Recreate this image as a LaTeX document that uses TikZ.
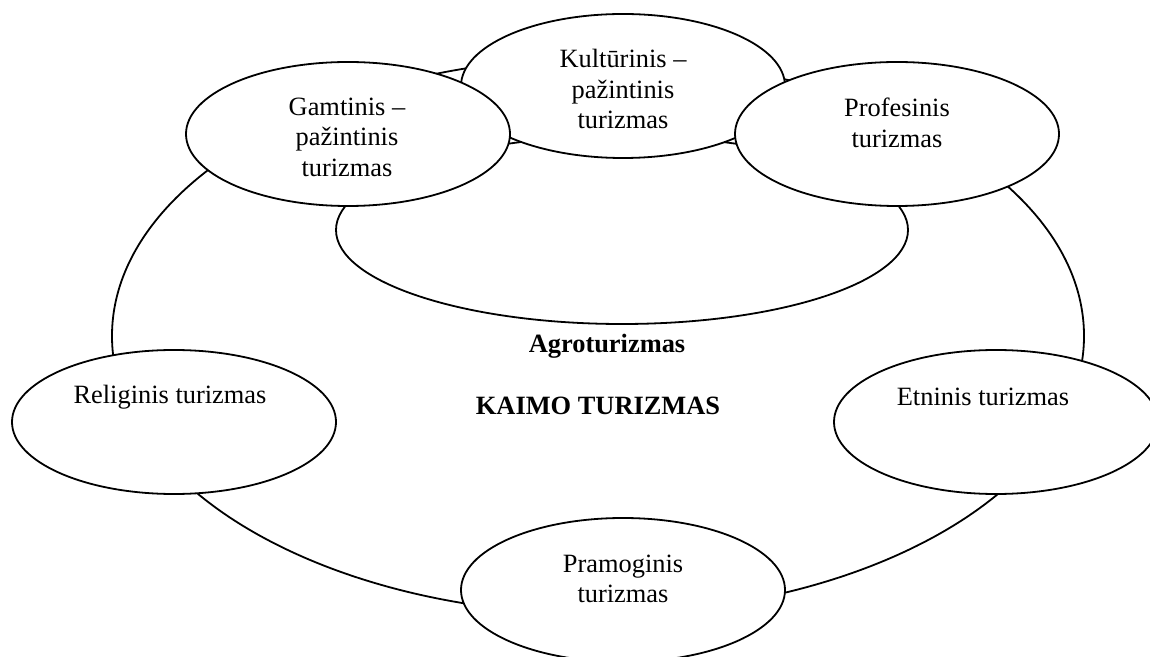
\documentclass[tikz,border=0pt]{standalone}
\usepackage{fontspec}
\setmainfont{Liberation Serif}
\usetikzlibrary{shapes.geometric}
\tikzstyle{scheme}=[x=0.5pt, y=-0.5pt, line width=0.9pt,
                    font=\fontsize{13.2}{15.2}\selectfont]
\tikzstyle{bubble}=[ellipse, draw, fill=white, inner sep=0pt,
                    minimum width=162pt, minimum height=72pt]
\tikzstyle{caption}=[align=center, inner sep=0pt]

\begin{document}
\begin{tikzpicture}[scheme]
  \useasboundingbox (0,0) rectangle (1150,657);
  \node[ellipse, draw, inner sep=0pt, minimum width=486pt, minimum height=278pt] (kaimas) at (598,336) {};
  \node[ellipse, draw, inner sep=0pt, minimum width=286pt, minimum height=94pt] (agro) at (622,230) {};
  \node[bubble] (kult) at (623,86) {};
  \node[bubble] (gamt) at (348,134) {};
  \node[bubble] (prof) at (897,134) {};
  \node[bubble] (relig) at (174,422) {};
  \node[bubble] (etn) at (996,422) {};
  \node[bubble] (pram) at (623,590) {};
  \node[caption] (kultT) at (623,89) {Kultūrinis –\\pažintinis\\turizmas};
  \node[caption] (gamtT) at (347,137) {Gamtinis –\\pažintinis\\turizmas};
  \node[caption] (profT) at (897,123) {Profesinis\\turizmas};
  \node[caption] (religT) at (170,397) {Religinis turizmas};
  \node[caption] (etnT) at (983,397) {Etninis turizmas};
  \node[caption] (pramT) at (623,579) {Pramoginis\\turizmas};
  \node[caption, font=\fontsize{13.2}{15.2}\selectfont\bfseries] (agroT) at (607,346) {Agroturizmas};
  \node[caption, font=\fontsize{13.2}{15.2}\selectfont\bfseries] (kaimasT) at (598,406) {KAIMO TURIZMAS};
\end{tikzpicture}
\end{document}
